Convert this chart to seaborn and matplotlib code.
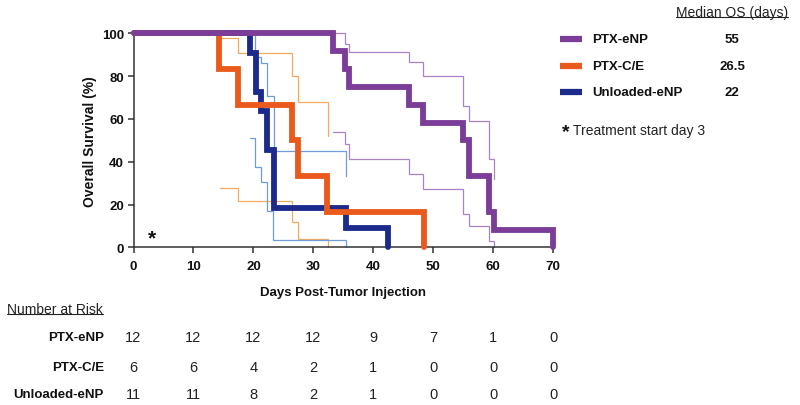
import matplotlib
matplotlib.use("Agg")
import matplotlib.pyplot as plt
import matplotlib.transforms as mtransforms
from matplotlib.lines import Line2D
from matplotlib import font_manager
import seaborn as sns
import pandas as pd

# ---------------- data ----------------
groups = ["PTX-eNP", "PTX-C/E", "Unloaded-eNP"]
median_os = ["55", "26.5", "22"]

ptx_enp_t = [0, 33.3, 35.2, 36.0, 46.0, 48.2, 55.0, 56.0, 59.3, 60.1, 70.0]
ptx_enp_s = [100, 91.7, 83.3, 75.0, 66.7, 58.3, 50.0, 33.3, 16.7, 8.3, 0]
ptx_enp_hi_t = [33.3, 35.2, 36.0, 46.0, 48.2, 55.0, 56.0, 59.3, 60.1]
ptx_enp_hi_s = [100, 95.0, 91.1, 86.4, 80.2, 66.2, 59.2, 41.3, 32.0]
ptx_enp_lo_t = [33.3, 35.2, 36.0, 46.0, 48.2, 55.0, 56.0, 59.3, 60.1]
ptx_enp_lo_s = [53.7, 48.3, 41.3, 34.3, 27.2, 15.6, 10.1, 3.1, 0]

ptx_ce_t = [0, 14.2, 17.4, 26.5, 27.4, 32.2, 48.4]
ptx_ce_s = [100, 83.3, 66.7, 50.0, 33.3, 16.7, 0]
ptx_ce_hi_t = [14.4, 17.4, 26.5, 27.4, 32.4]
ptx_ce_hi_s = [97.8, 90.8, 80.2, 67.8, 52.1]
ptx_ce_lo_t = [14.4, 17.4, 26.5, 27.4, 32.4]
ptx_ce_lo_s = [27.6, 21.8, 11.7, 3.9, 0]

unl_t = [0, 19.4, 20.4, 21.2, 22.3, 23.4, 35.5, 42.5]
unl_s = [100, 90.9, 72.7, 63.6, 45.5, 18.2, 9.1, 0]
unl_hi_t = [19.4, 20.3, 21.3, 22.2, 23.4, 35.5]
unl_hi_s = [100, 89.0, 86.0, 70.5, 44.8, 33.5]
unl_lo_t = [19.5, 20.3, 21.3, 22.3, 23.3, 35.5]
unl_lo_s = [51.0, 37.5, 30.4, 17.1, 3.5, 0]

risk_days = [0, 10, 20, 30, 40, 50, 60, 70]
risk_ptx_enp = [12, 12, 12, 12, 9, 7, 1, 0]
risk_ptx_ce = [6, 6, 4, 2, 1, 0, 0, 0]
risk_unl = [11, 11, 8, 2, 1, 0, 0, 0]

x_ticks = [0, 10, 20, 30, 40, 50, 60, 70]
y_ticks = [0, 20, 40, 60, 80, 100]

# ---------------- style ----------------
sns.set_style("ticks")
plt.rcParams["font.family"] = ["Liberation Sans", "DejaVu Sans"]

installed = {f.name for f in font_manager.fontManager.ttflist}
narrow = ["Liberation Sans Narrow"] if "Liberation Sans Narrow" in installed else []
narrow_family = narrow + ["Liberation Sans", "DejaVu Sans"]
num_size = 11 if narrow else 10.5

dark = {"PTX-eNP": "#7B3D98", "PTX-C/E": "#EA5A1C", "Unloaded-eNP": "#1C2B8B"}
light = {"PTX-eNP": "#A883C6", "PTX-C/E": "#F5A95E", "Unloaded-eNP": "#6E9CD8"}

W, H = 800, 406
fig = plt.figure(figsize=(W / 100, H / 100), dpi=100)
ax = fig.add_axes([133.5 / W, 1 - 248.3 / H, (553.3 - 133.5) / W, (248.3 - 34.3) / H])

def step(t, s, color, lw, z):
    df = pd.DataFrame({"t": t, "s": s})
    sns.lineplot(data=df, x="t", y="s", ax=ax, color=color, lw=lw,
                 drawstyle="steps-post", estimator=None, sort=False,
                 clip_on=False, zorder=z, solid_joinstyle="miter")

thin = 0.9
thick = 4.2
# confidence bands (thin)
step(ptx_ce_hi_t, ptx_ce_hi_s, light["PTX-C/E"], thin, 2)
step(ptx_ce_lo_t, ptx_ce_lo_s, light["PTX-C/E"], thin, 2)
step(unl_hi_t, unl_hi_s, light["Unloaded-eNP"], thin, 2)
step(unl_lo_t, unl_lo_s, light["Unloaded-eNP"], thin, 2)
step(ptx_enp_hi_t, ptx_enp_hi_s, light["PTX-eNP"], thin, 2)
step(ptx_enp_lo_t, ptx_enp_lo_s, light["PTX-eNP"], thin, 2)
# survival curves (thick)
step(unl_t, unl_s, dark["Unloaded-eNP"], thick, 3)
step(ptx_ce_t, ptx_ce_s, dark["PTX-C/E"], thick, 4)
step(ptx_enp_t, ptx_enp_s, dark["PTX-eNP"], thick, 5)

ax.set_xlim(0, 70)
ax.set_ylim(0, 100)
ax.set_xticks(x_ticks)
ax.set_yticks(y_ticks)
ax.set_xticklabels([str(v) for v in x_ticks], fontweight="bold", fontsize=9.5)
ax.set_yticklabels([str(v) for v in y_ticks], fontweight="bold", fontsize=9.5)
sns.despine(ax=ax)
for sp in ("left", "bottom"):
    ax.spines[sp].set_color("#333333")
    ax.spines[sp].set_linewidth(1.1)
ax.tick_params(axis="both", length=4, width=1.1, color="#333333", pad=3,
               labelcolor="#111111")
ax.tick_params(axis="x", pad=5)
ax.set_xlabel("Days Post-Tumor Injection", fontweight="bold", fontsize=9.5,
              labelpad=10, color="#111111")
ax.set_ylabel("Overall Survival (%)", fontweight="bold", fontsize=10,
              labelpad=3.5, color="#111111")

# treatment start marker
ax.text(3, 1.8, "*", fontsize=15, fontweight="bold", ha="center",
        va="baseline", color="#111111")

# ---------------- legend (manual) ----------------
def fx(px):
    return px / W

def fy(py):
    return 1 - py / H

leg_y = [40, 67, 93]
for g, yy, m in zip(groups, leg_y, median_os):
    fig.add_artist(Line2D([fx(560), fx(582)], [fy(yy), fy(yy)],
                          color=dark[g], lw=4.5, solid_capstyle="butt"))
    fig.text(fx(592), fy(yy), g, fontweight="bold", fontsize=9.5,
             va="center", ha="left", color="#111111")
    fig.text(fx(732), fy(yy), m, fontweight="bold", fontsize=9.5,
             va="center", ha="center", color="#111111")

t_med = fig.text(fx(732), fy(13), "Median OS (days)", fontsize=10,
                 va="center", ha="center", color="#222222")
fig.text(fx(566), fy(133), "*", fontsize=14, fontweight="bold",
         va="center", ha="center", color="#111111")
fig.text(fx(573), fy(131), "Treatment start day 3", fontsize=10,
         va="center", ha="left", color="#222222")

# ---------------- number at risk table ----------------
t_nar = fig.text(fx(7), fy(310), "Number at Risk", fontsize=10,
                 va="center", ha="left", color="#222222")
trans = mtransforms.blended_transform_factory(ax.transData, fig.transFigure)
rows = [risk_ptx_enp, risk_ptx_ce, risk_unl]
row_y = [338, 368, 395]
for g, vals, yy in zip(groups, rows, row_y):
    fig.text(fx(104), fy(yy), g, fontweight="bold", fontsize=9.5,
             va="center", ha="right", color="#111111")
    for d, v in zip(risk_days, vals):
        ax.text(d, fy(yy), str(v), transform=trans, fontsize=num_size,
                family=narrow_family, va="center", ha="center",
                color="#222222", clip_on=False)

# underline helper
fig.canvas.draw()
renderer = fig.canvas.get_renderer()
for t in (t_med, t_nar):
    bb = t.get_window_extent(renderer=renderer)
    inv = fig.transFigure.inverted()
    (x0, y0), (x1, y1) = inv.transform([(bb.x0, bb.y0), (bb.x1, bb.y1)])
    fig.add_artist(Line2D([x0, x1], [y0 + 0.004, y0 + 0.004],
                          color="#222222", lw=0.8))

fig.savefig("out.png", dpi=100)
